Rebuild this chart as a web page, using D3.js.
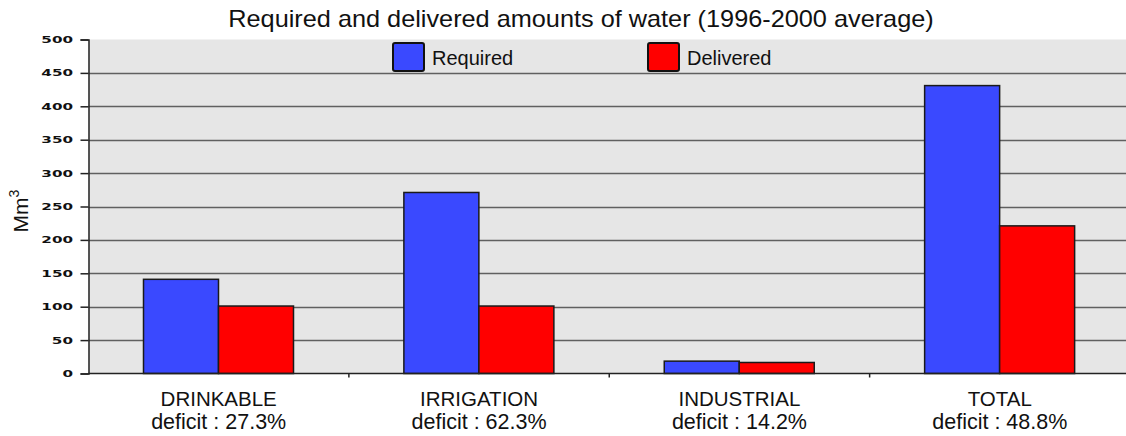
<!DOCTYPE html>
<html><head><meta charset="utf-8">
<script src="https://cdn.jsdelivr.net/npm/d3@7"></script>
<style>body{margin:0;background:#fff}svg{display:block}</style>
</head><body>
<svg id="c" width="1126" height="436"></svg>
<script>
const categories = ["DRINKABLE","IRRIGATION","INDUSTRIAL","TOTAL"];
const deficits = ["deficit : 27.3%","deficit : 62.3%","deficit : 14.2%","deficit : 48.8%"];
const seriesNames = ["Required","Delivered"];
const required = [141, 271, 18.5, 431];
const delivered = [101, 101, 16.5, 221];
const yTicks = [0,50,100,150,200,250,300,350,400,450,500];
const colors = ["#3a49ff","#ff0000"];

const svg = d3.select("#c");
const mLeft = 88.5, mTop = 39.5, mBottom = 373.5, mRight = 1130;
const x = d3.scaleBand().domain(categories).range([mLeft, mRight]);
const x1 = d3.scaleBand().domain(seriesNames).range([55, 205]);
const y = d3.scaleLinear().domain([0,500]).range([mBottom, mTop]);
const FONT = "'Liberation Sans', Arial, sans-serif";

svg.append("rect").attr("x",mLeft).attr("y",mTop).attr("width",1126-mLeft).attr("height",mBottom-mTop).attr("fill","#e6e6e6");

// grid
svg.append("g").selectAll("line").data(yTicks.filter(d=>d>0 && d<500)).join("line")
  .attr("x1",mLeft).attr("x2",1126).attr("y1",d=>Math.round(y(d))+0.5).attr("y2",d=>Math.round(y(d))+0.5)
  .attr("stroke","#606060").attr("stroke-width",1.5);

// bars
const data = categories.map((c,i)=>({c, vals:[required[i], delivered[i]]}));
const g = svg.append("g").selectAll("g").data(data).join("g").attr("transform",d=>`translate(${x(d.c)},0)`);
g.selectAll("rect").data(d=>d.vals.map((v,j)=>({v, s:seriesNames[j], j}))).join("rect")
  .attr("x",d=>x1(d.s)).attr("width",x1.bandwidth())
  .attr("y",d=>y(d.v)).attr("height",d=>y(0)-y(d.v))
  .attr("fill",d=>colors[d.j]).attr("stroke","#1a1a1a").attr("stroke-width",1.5);

// y axis
const sx = 1.6;
const ya = svg.append("g").attr("transform",`translate(${mLeft},0)`)
  .call(d3.axisLeft(y).tickValues(yTicks).tickSize(8).tickPadding(8));
ya.select(".domain").attr("stroke","#222").attr("stroke-width",1.5);
ya.selectAll(".tick line").attr("stroke","#222").attr("stroke-width",1.5);
ya.selectAll("text").attr("font-family","'DejaVu Sans', sans-serif").attr("font-weight","bold")
  .attr("font-size",9.5).attr("fill","#111").attr("x",-15.5/sx).attr("transform",`scale(${sx},1)`);

// x axis baseline
svg.append("line").attr("x1",mLeft).attr("x2",1126).attr("y1",mBottom).attr("y2",mBottom).attr("stroke","#222").attr("stroke-width",1.5);
// category separators
svg.append("g").selectAll("line").data(categories.slice(1)).join("line")
  .attr("x1",d=>x(d)).attr("x2",d=>x(d)).attr("y1",mBottom).attr("y2",mBottom+4).attr("stroke","#222").attr("stroke-width",1.5);

// category labels
const lab = svg.append("g").selectAll("g").data(categories).join("g");
lab.append("text").attr("x",d=>x(d)+x.bandwidth()/2).attr("y",406).attr("text-anchor","middle")
  .attr("font-family",FONT).attr("font-size",20.5).attr("fill","#111").text(d=>d);
lab.append("text").attr("x",(d)=>x(d)+x.bandwidth()/2).attr("y",429).attr("text-anchor","middle")
  .attr("font-family",FONT).attr("font-size",21.5).attr("fill","#111").text((d,i)=>deficits[i]);

// title
svg.append("g").attr("transform","translate(581,27) scale(1.1,1)")
  .append("text").attr("x",0).attr("y",0).attr("text-anchor","middle")
  .attr("font-family",FONT).attr("font-size",23).attr("fill","#111")
  .text("Required and delivered amounts of water (1996-2000 average)");

// y label
const yl = svg.append("text").attr("transform","translate(28,211) rotate(-90)").attr("text-anchor","middle")
  .attr("font-family",FONT).attr("font-size",21).attr("fill","#111");
yl.append("tspan").text("Mm");
yl.append("tspan").attr("font-size",14).attr("dy",-9).text("3");

// legend
const legX = [393, 648];
const lg = svg.append("g").selectAll("g").data(seriesNames).join("g").attr("transform",(d,i)=>`translate(${legX[i]},43)`);
lg.append("rect").attr("width",31).attr("height",28).attr("rx",2).attr("fill",(d,i)=>colors[i]).attr("stroke","#111").attr("stroke-width",2);
lg.append("text").attr("x",39).attr("y",22).attr("font-family",FONT).attr("font-size",20).attr("fill","#111").text(d=>d);
</script>
</body></html>
